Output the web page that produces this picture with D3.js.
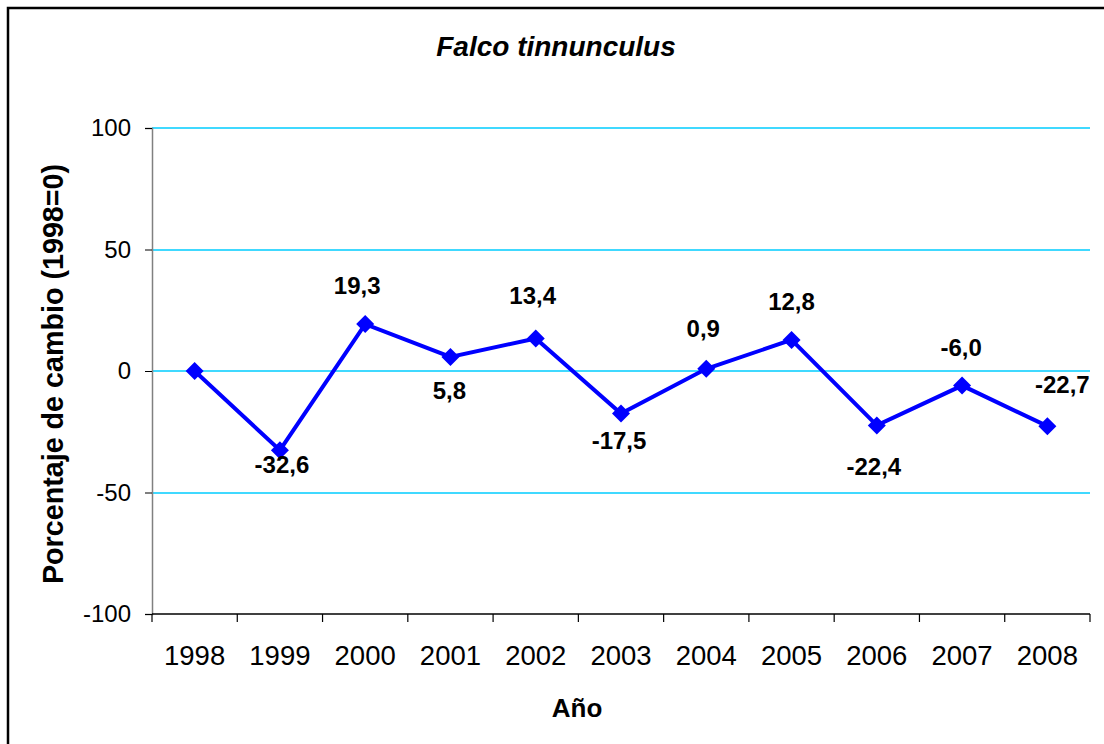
<!DOCTYPE html>
<html>
<head>
<meta charset="utf-8">
<script src="https://cdn.jsdelivr.net/npm/d3@7"></script>
<style>
  body { margin: 0; background: #fff; }
  text { font-family: "Liberation Sans", Arial, sans-serif; }
</style>
</head>
<body>
<div id="chart-area"></div>
<script>
/*
*    Falco tinnunculus - porcentaje de cambio
*/

var years = ["1998", "1999", "2000", "2001", "2002", "2003", "2004", "2005", "2006", "2007", "2008"];
var values = [0, -32.6, 19.3, 5.8, 13.4, -17.5, 0.9, 12.8, -22.4, -6.0, -22.7];
var labels = ["", "-32,6", "19,3", "5,8", "13,4", "-17,5", "0,9", "12,8", "-22,4", "-6,0", "-22,7"];
var yTicks = [-100, -50, 0, 50, 100];

// where each value label sits relative to its point
var labelDx = [0, 2, -8, -1, -3, -2, -3, 0, -3, -1, 15];
var labelDy = [0, 23, -30, 42, -34, 35, -32, -30, 50, -30, -33];

var width = 1104, height = 744;
var plotLeft = 152, plotRight = 1090, plotTop = 128, plotBottom = 614;

var svg = d3.select("#chart-area").append("svg")
	.attr("width", width)
	.attr("height", height);

// outer frame, runs off the right and bottom edges
svg.append("rect")
    .attr("x", 8)
    .attr("y", 8)
    .attr("width", 1200)
    .attr("height", 800)
    .attr("fill", "white")
    .attr("stroke", "black")
    .attr("stroke-width", 2.5);

var x = d3.scaleBand().domain(years).range([plotLeft, plotRight]).padding(0);
var y = d3.scaleLinear().domain([-100, 100]).range([plotBottom, plotTop]);
var cx = (d) => x(d) + x.bandwidth() / 2;

// gridlines
svg.selectAll(".grid").data(yTicks.filter(t => t > -100)).enter().append("line")
    .attr("x1", plotLeft)
    .attr("x2", plotRight)
    .attr("y1", d => Math.round(y(d)))
    .attr("y2", d => Math.round(y(d)))
    .attr("stroke", "#00ccff")
    .attr("stroke-width", 1.6);

// y axis
var yAxis = svg.append("g")
    .attr("transform", "translate(" + plotLeft + ",0)")
    .call(d3.axisLeft(y).tickValues(yTicks).tickFormat(d => String(d)).tickSize(7).tickPadding(14));
yAxis.select(".domain").attr("stroke", "#808080").attr("stroke-width", 1.5);
yAxis.selectAll(".tick line").attr("stroke", "black");
yAxis.selectAll("text")
    .attr("font-family", "Liberation Sans, Arial, sans-serif")
    .attr("font-size", 24)
    .attr("fill", "black");

// x axis, ticks on the band edges
var xAxis = svg.append("g")
    .attr("transform", "translate(0," + plotBottom + ")");
xAxis.append("line")
    .attr("x1", plotLeft).attr("x2", plotRight)
    .attr("y1", 0).attr("y2", 0)
    .attr("stroke", "black").attr("stroke-width", 1.5);
var edges = years.map(d => x(d)).concat([plotRight]);
xAxis.selectAll(".xt").data(edges).enter().append("line")
    .attr("x1", d => d).attr("x2", d => d)
    .attr("y1", 0).attr("y2", 8)
    .attr("stroke", "black").attr("stroke-width", 1.2);
xAxis.selectAll(".xl").data(years).enter().append("text")
    .attr("x", d => cx(d))
    .attr("y", 51)
    .attr("text-anchor", "middle")
    .attr("font-size", 27.5)
    .text(d => d);

// series line
var line = d3.line()
    .x((d, i) => cx(years[i]))
    .y(d => y(d));

svg.append("path")
    .datum(values)
    .attr("d", line)
    .attr("fill", "none")
    .attr("stroke", "#0000ff")
    .attr("stroke-width", 4);

// diamond markers
svg.selectAll(".mk").data(values).enter().append("path")
    .attr("transform", (d, i) => "translate(" + cx(years[i]) + "," + y(d) + ")")
    .attr("d", "M0,-9L9,0L0,9L-9,0Z")
    .attr("fill", "#0000ff");

// value labels
svg.selectAll(".vl").data(values).enter().append("text")
    .attr("x", (d, i) => cx(years[i]) + labelDx[i])
    .attr("y", (d, i) => y(d) + labelDy[i])
    .attr("text-anchor", "middle")
    .attr("font-size", 24)
    .attr("font-weight", "bold")
    .text((d, i) => labels[i]);

// title
svg.append("text")
    .attr("x", 556)
    .attr("y", 56)
    .attr("text-anchor", "middle")
    .attr("font-size", 28)
    .attr("font-weight", "bold")
    .attr("font-style", "italic")
    .text("Falco tinnunculus");

// axis titles
svg.append("text")
    .attr("x", 577)
    .attr("y", 717)
    .attr("text-anchor", "middle")
    .attr("font-size", 26)
    .attr("font-weight", "bold")
    .text("Año");

svg.append("text")
    .attr("transform", "translate(63,374) rotate(-90)")
    .attr("text-anchor", "middle")
    .attr("font-size", 28.7)
    .attr("font-weight", "bold")
    .text("Porcentaje de cambio (1998=0)");
</script>
</body>
</html>
